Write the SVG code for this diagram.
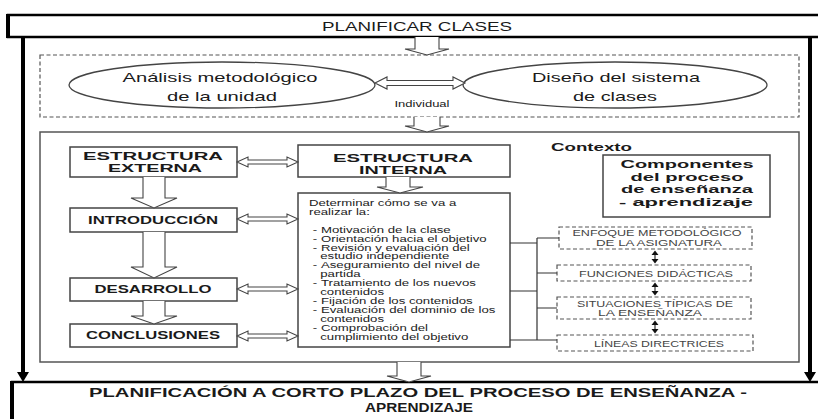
<svg xmlns="http://www.w3.org/2000/svg" width="818" height="419" viewBox="0 0 818 419">
<defs>
<style>
text{font-family:"Liberation Sans",Arial,sans-serif;fill:#1a1a1a}
.b{font-weight:bold}
.box{fill:#fff;stroke:#444;stroke-width:1.5}
.dash{fill:#fff;stroke:#555;stroke-width:1.2;stroke-dasharray:4 2.5}
.harr{fill:#fff;stroke:#444;stroke-width:1.1}
.thick{stroke:#000;stroke-width:4;fill:none}
.ln{stroke:#333;stroke-width:1.2;fill:none}
.ell{fill:#fff;stroke:#444;stroke-width:1.3}
.sm{font-size:8.3px;fill:#444}
.lst{font-size:8.8px;fill:#222}
</style>
</defs>
<rect width="818" height="419" fill="#fff"/>

<g id="planificar-clases">
<rect x="8" y="15" width="816" height="22" fill="#fff" stroke="#000" stroke-width="2.5"/>
<line x1="8" y1="14" x2="8" y2="38" stroke="#000" stroke-width="4"/>
<text x="417" y="31" font-size="13" text-anchor="middle" textLength="190" lengthAdjust="spacingAndGlyphs">PLANIFICAR CLASES</text>
</g>

<g id="planificacion-corto-plazo">
<rect x="12" y="382" width="812" height="45" fill="#fff" stroke="#000" stroke-width="2.5"/>
<line x1="12" y1="381" x2="12" y2="419" stroke="#000" stroke-width="4"/>
<text class="b" x="418" y="397" font-size="13.5" text-anchor="middle" textLength="658" lengthAdjust="spacingAndGlyphs">PLANIFICACIÓN A CORTO PLAZO DEL PROCESO DE ENSEÑANZA -</text>
<text class="b" x="419" y="412" font-size="13.5" text-anchor="middle" textLength="108" lengthAdjust="spacingAndGlyphs">APRENDIZAJE</text>
</g>

<g id="fase-individual">
<rect class="dash" x="40" y="55" width="759" height="62"/>
<text x="422" y="107" font-size="9.5" text-anchor="middle" textLength="55" lengthAdjust="spacingAndGlyphs">Individual</text>
</g>

<g id="analisis-metodologico">
<ellipse class="ell" cx="222" cy="85" rx="153" ry="23"/>
<text x="220" y="82" font-size="13" text-anchor="middle" fill="#333" textLength="195" lengthAdjust="spacingAndGlyphs">Análisis metodológico</text>
<text x="222" y="101" font-size="13" text-anchor="middle" fill="#333" textLength="110" lengthAdjust="spacingAndGlyphs">de la unidad</text>
</g>

<g id="diseno-sistema-clases">
<ellipse class="ell" cx="615" cy="85" rx="152" ry="23"/>
<text x="616" y="82" font-size="13" text-anchor="middle" fill="#333" textLength="168" lengthAdjust="spacingAndGlyphs">Diseño del sistema</text>
<text x="615" y="101" font-size="13" text-anchor="middle" fill="#333" textLength="84" lengthAdjust="spacingAndGlyphs">de clases</text>
</g>

<g id="contexto">
<rect x="40" y="132" width="759" height="230" fill="#fff" stroke="#555" stroke-width="1.5"/>
<text class="b" x="551" y="151" font-size="11" textLength="81" lengthAdjust="spacingAndGlyphs">Contexto</text>
</g>

<g id="estructura-externa">
<rect class="box" x="70" y="147" width="167" height="30"/>
<text class="b" x="153" y="160" font-size="11.5" text-anchor="middle" textLength="140" lengthAdjust="spacingAndGlyphs">ESTRUCTURA</text>
<text class="b" x="155" y="172" font-size="11.5" text-anchor="middle" textLength="94" lengthAdjust="spacingAndGlyphs">EXTERNA</text>
</g>

<g id="introduccion">
<rect class="box" x="70" y="208" width="167" height="24"/>
<text class="b" x="153" y="224" font-size="10.5" text-anchor="middle" textLength="130" lengthAdjust="spacingAndGlyphs">INTRODUCCIÓN</text>
</g>

<g id="desarrollo">
<rect class="box" x="70" y="278" width="167" height="23"/>
<text class="b" x="153" y="293" font-size="10.5" text-anchor="middle" textLength="117" lengthAdjust="spacingAndGlyphs">DESARROLLO</text>
</g>

<g id="conclusiones">
<rect class="box" x="70" y="324" width="167" height="23"/>
<text class="b" x="153" y="339" font-size="10.5" text-anchor="middle" textLength="134" lengthAdjust="spacingAndGlyphs">CONCLUSIONES</text>
</g>

<g id="estructura-interna">
<rect class="box" x="298" y="145" width="212" height="32"/>
<text class="b" x="403" y="162" font-size="11.5" text-anchor="middle" textLength="140" lengthAdjust="spacingAndGlyphs">ESTRUCTURA</text>
<text class="b" x="403" y="174" font-size="11.5" text-anchor="middle" textLength="88" lengthAdjust="spacingAndGlyphs">INTERNA</text>
</g>

<g id="determinar">
<rect class="box" x="298" y="193" width="212" height="154"/>
<g transform="translate(309 0) scale(1.5 1)">
<text class="lst" x="0" y="206">Determinar cómo se va a</text>
<text class="lst" x="0" y="215">realizar la:</text>
<text class="lst" x="2.5" y="233">-</text><text class="lst" x="8" y="233">Motivación de la clase</text>
<text class="lst" x="2.5" y="242">-</text><text class="lst" x="8" y="242">Orientación hacia el objetivo</text>
<text class="lst" x="2.5" y="251">-</text><text class="lst" x="8" y="251">Revisión y evaluación del</text>
<text class="lst" x="7.5" y="259.5">estudio independiente</text>
<text class="lst" x="2.5" y="268">-</text><text class="lst" x="8" y="268">Aseguramiento del nivel de</text>
<text class="lst" x="7.5" y="277">partida</text>
<text class="lst" x="2.5" y="286">-</text><text class="lst" x="8" y="286">Tratamiento de los nuevos</text>
<text class="lst" x="7.5" y="295">contenidos</text>
<text class="lst" x="2.5" y="304">-</text><text class="lst" x="8" y="304">Fijación de los contenidos</text>
<text class="lst" x="2.5" y="313">-</text><text class="lst" x="8" y="313">Evaluación del dominio de los</text>
<text class="lst" x="7.5" y="322">contenidos</text>
<text class="lst" x="2.5" y="331">-</text><text class="lst" x="8" y="331">Comprobación del</text>
<text class="lst" x="7.5" y="340">cumplimiento del objetivo</text>
</g>
</g>

<g id="componentes">
<rect class="box" x="603" y="155" width="167" height="62"/>
<text class="b" x="687" y="168" font-size="11.8" text-anchor="middle" textLength="133" lengthAdjust="spacingAndGlyphs">Componentes</text>
<text class="b" x="687" y="180.5" font-size="11.8" text-anchor="middle" textLength="113" lengthAdjust="spacingAndGlyphs">del proceso</text>
<text class="b" x="687" y="193" font-size="11.8" text-anchor="middle" textLength="132" lengthAdjust="spacingAndGlyphs">de enseñanza</text>
<text class="b" x="686" y="206" font-size="11.8" text-anchor="middle" textLength="134" lengthAdjust="spacingAndGlyphs">- aprendizaje</text>
</g>

<g id="enfoque-metodologico">
<rect class="dash" x="559" y="227" width="193" height="22"/>
<text class="sm" x="657" y="236" text-anchor="middle" textLength="169" lengthAdjust="spacingAndGlyphs">ENFOQUE METODOLÓGICO</text>
<text class="sm" x="659" y="246" text-anchor="middle" textLength="126" lengthAdjust="spacingAndGlyphs">DE LA ASIGNATURA</text>
</g>

<g id="funciones-didacticas">
<rect class="dash" x="557" y="265" width="194" height="16"/>
<text class="sm" x="656" y="276.5" text-anchor="middle" textLength="154" lengthAdjust="spacingAndGlyphs">FUNCIONES DIDÁCTICAS</text>
</g>

<g id="situaciones-tipicas">
<rect class="dash" x="557" y="297" width="194" height="22"/>
<text class="sm" x="655" y="306.5" text-anchor="middle" textLength="156" lengthAdjust="spacingAndGlyphs">SITUACIONES TÍPICAS DE</text>
<text class="sm" x="650" y="316" text-anchor="middle" textLength="104" lengthAdjust="spacingAndGlyphs">LA ENSEÑANZA</text>
</g>

<g id="lineas-directrices">
<rect class="dash" x="557" y="335" width="196" height="16"/>
<text class="sm" x="659" y="346.5" text-anchor="middle" textLength="130" lengthAdjust="spacingAndGlyphs">LÍNEAS DIRECTRICES</text>
</g>

<g id="connectors">
<line class="thick" x1="23" y1="37" x2="23" y2="374"/>
<polygon points="17,372 29,372 23,382" fill="#000"/>
<line class="thick" x1="810" y1="37" x2="810" y2="374"/>
<polygon points="804,372 816,372 810,382" fill="#000"/>

<path class="harr" d="M415,37 V49 H405 L427,55 L449,49 H439 V37"/>
<path class="harr" d="M414,117 V126 H405 L427,132 L449,126 H440 V117"/>
<path class="harr" d="M397,362 V376 H387 L409,382 L431,376 H421 V362"/>
<path class="harr" d="M386,177 V187 H377 L400,193 L423,187 H410 V177"/>
<path class="harr" d="M143,177 V198 H131 L154,208 L177,198 H165 V177"/>
<path class="harr" d="M143,232 V267 H131 L154,278 L177,267 H165 V232"/>
<path class="harr" d="M143,301 V316 H131 L154,324 L177,316 H165 V301"/>

<path class="harr" d="M375,83 L387,77 V80.5 H453 V77 L465,83 L453,89 V85.5 H387 V89 Z"/>
<path class="harr" d="M237,162 L248,157 V160 H287 V157 L298,162 L287,167 V164 H248 V167 Z"/>
<path class="harr" d="M237,219 L248,214 V217 H287 V214 L298,219 L287,224 V221 H248 V224 Z"/>
<path class="harr" d="M237,289 L248,284 V287 H287 V284 L298,289 L287,294 V291 H248 V294 Z"/>
<path class="harr" d="M237,336 L248,331 V334 H287 V331 L298,336 L287,341 V338 H248 V341 Z"/>

<path class="ln" d="M510,243 H537 M510,291 H537 M510,340 H537 M537,238 V340 M537,238 H559 M537,273 H557 M537,308 H557 M537,340 H557"/>

<path class="ln" d="M655,253 V261 M655,285 V293 M655,323 V331"/>
<path d="M651.5,255 L655,250.5 L658.5,255 Z M651.5,259 L655,263.5 L658.5,259 Z M651.5,287 L655,282.5 L658.5,287 Z M651.5,291 L655,295.5 L658.5,291 Z M651.5,325 L655,320.5 L658.5,325 Z M651.5,329 L655,333.5 L658.5,329 Z" fill="#111"/>
</g>
</svg>
